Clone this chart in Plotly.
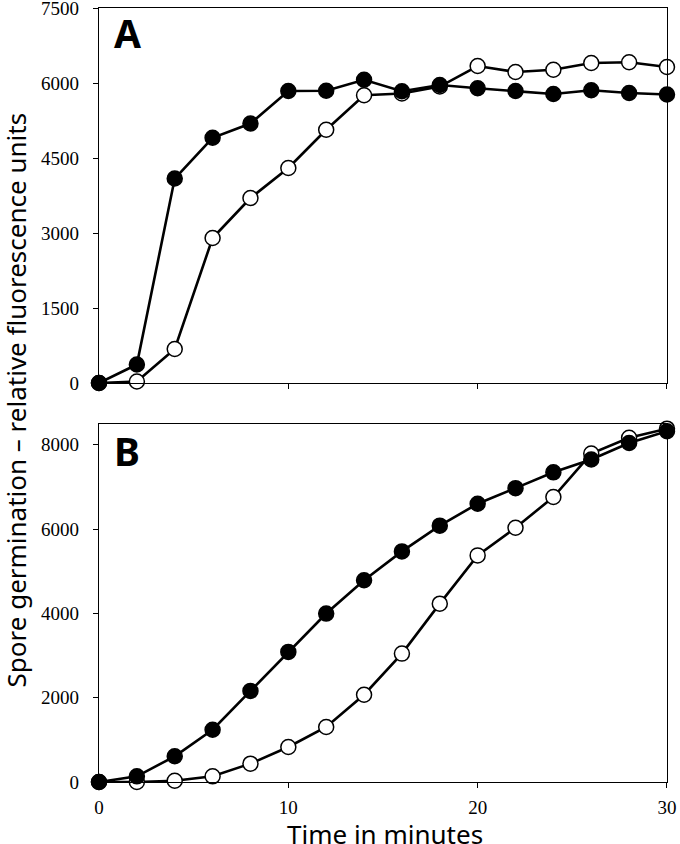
import plotly.graph_objects as go

# time points (minutes)
time_min = [0, 2, 4, 6, 8, 10, 12, 14, 16, 18, 20, 22, 24, 26, 28, 30]

# panel A
a_filled = [0, 370, 4090, 4905, 5190, 5840, 5845, 6065, 5835, 5960, 5895, 5840, 5780, 5855, 5800, 5770]
a_open = [0, 30, 680, 2900, 3700, 4300, 5065, 5755, 5790, 5930, 6340, 6220, 6265, 6400, 6415, 6320]

# panel B
b_filled = [0, 135, 610, 1240, 2160, 3085, 3995, 4785, 5470, 6080, 6600, 6970, 7345, 7650, 8040, 8320]
b_open = [0, 0, 30, 135, 435, 830, 1305, 2070, 3045, 4230, 5375, 6030, 6760, 7790, 8165, 8380]

a_ticks = [0, 1500, 3000, 4500, 6000, 7500]
b_ticks = [0, 2000, 4000, 6000, 8000]
x_ticks = [0, 10, 20, 30]

SERIF = "Liberation Serif, Times New Roman, DejaVu Serif, serif"
SANS = "Noto Sans, Open Sans, sans-serif"


def series(x, y, filled, xa, ya):
    return go.Scatter(
        x=x, y=y, xaxis=xa, yaxis=ya,
        mode="lines+markers", showlegend=False, cliponaxis=False,
        line=dict(color="black", width=2.6),
        marker=dict(size=15, color="black" if filled else "white",
                    line=dict(color="black", width=1.5)),
    )


fig = go.Figure()
# open first so filled circles sit on top
fig.add_trace(series(time_min, a_open, False, "x", "y"))
fig.add_trace(series(time_min, a_filled, True, "x", "y"))
fig.add_trace(series(time_min, b_open, False, "x2", "y2"))
fig.add_trace(series(time_min, b_filled, True, "x2", "y2"))

axis_common = dict(
    showgrid=False, zeroline=False, showline=True, mirror=True,
    linecolor="black", linewidth=1.3,
    ticks="outside", ticklen=5, tickwidth=1.3, tickcolor="black",
    tickfont=dict(family=SERIF, size=19, color="black"),
    ticklabeloverflow="allow", automargin=False,
)

fig.update_layout(
    width=680, height=844,
    margin=dict(l=99, r=13, t=8, b=62, autoexpand=False),
    plot_bgcolor="white", paper_bgcolor="white",
    xaxis=dict(axis_common, domain=[0, 1], range=[0, 30.001], anchor="y",
               tickvals=[10, 20, 30], showticklabels=False),
    yaxis=dict(axis_common, domain=[0.5155, 1], range=[0, 7501], anchor="x",
               tickvals=a_ticks, ticklabelstandoff=10),
    xaxis2=dict(axis_common, domain=[0, 1], range=[0, 30.001], anchor="y2",
                tickvals=x_ticks, ticklabelstandoff=3),
    yaxis2=dict(axis_common, domain=[0, 0.463], range=[0, 8500], anchor="x2",
                tickvals=b_ticks, ticklabelstandoff=10),
)

# panel letters
fig.add_annotation(text="<b>A</b>", xref="paper", yref="paper", x=0.05, y=1.005,
                   xanchor="center", yanchor="top", showarrow=False,
                   font=dict(family=SANS, size=39, color="black"))
fig.add_annotation(text="<b>B</b>", xref="paper", yref="paper", x=0.05, y=0.465,
                   xanchor="center", yanchor="top", showarrow=False,
                   font=dict(family=SANS, size=39, color="black"))

# shared axis titles
fig.add_annotation(text="Spore germination \u2013 relative fluorescence units",
                   xref="paper", yref="paper", x=-0.146, y=0.493, textangle=-90,
                   xanchor="center", yanchor="middle", showarrow=False,
                   font=dict(family=SANS, size=26, color="black"))
fig.add_annotation(text="Time in minutes", xref="paper", yref="paper",
                   x=0.504, y=-0.067, xanchor="center", yanchor="middle", showarrow=False,
                   font=dict(family=SANS, size=26, color="black"))

# page body has a default 8px margin; drop it so the figure fills the window
fig.write_html("out.html", config={"displayModeBar": False},
               post_script="document.body.style.margin='0';")
